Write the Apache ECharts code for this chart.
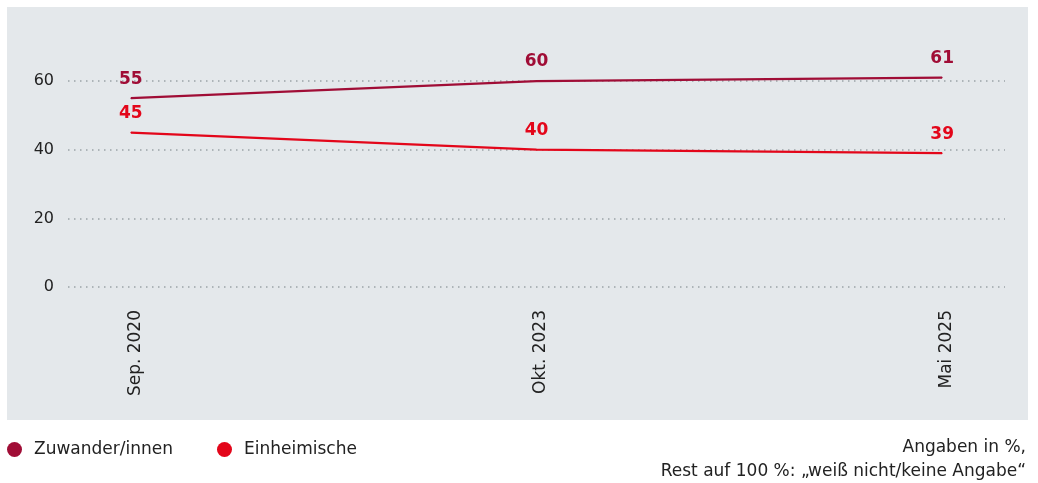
<!DOCTYPE html>
<html>
<head>
<meta charset="utf-8">
<script src="https://cdn.jsdelivr.net/npm/echarts@6/dist/echarts.min.js"></script>
<style>
  html, body { margin: 0; padding: 0; background: #fff; }
  #chart { width: 1038px; height: 483px; }
</style>
</head>
<body>
<div id="chart"></div>
<script>
// Daten
var categories = ['Sep. 2020', 'Okt. 2023', 'Mai 2025'];
var zuwanderer = [55, 60, 61];
var einheimische = [45, 40, 39];
var yTicks = [0, 20, 40, 60];

var colZuw = '#a00d36';
var colEin = '#e3061a';
var font = 'DejaVu Sans';

function pairs(vals){
    var out = [];
    for (var i = 0; i < vals.length; i++) {
        out.push([i, vals[i]]);
    }
    return out;
}

function lineSeries(name, vals, col){
    return {
        name: name,
        type: 'line',
        data: pairs(vals),
        color: col,
        symbol: 'circle',
        symbolSize: 1,
        showSymbol: true,
        itemStyle: { color: col },
        clip: false,
        lineStyle: { width: 2.2, color: col },
        label: {
            show: true, position: 'top', distance: 10,
            fontSize: 17, fontWeight: 'bold', color: col,
            formatter: function(p){ return String(p.value[1]); }
        }
    };
}

var oChart = echarts.init(document.getElementById('chart'));
var option = {
    backgroundColor: '#fff',
    textStyle: { fontFamily: font },
    animation: false,
    graphic: [
        {
            type: 'rect', z: -10, silent: true,
            shape: { x: 7, y: 7, width: 1021, height: 413 },
            style: { fill: '#e4e8eb' }
        },
        {
            type: 'text', right: 12, top: 439,
            style: { text: 'Angaben in %,', font: '17px "' + font + '"', fill: '#222', textAlign: 'right' }
        },
        {
            type: 'text', right: 12, top: 463,
            style: { text: 'Rest auf 100 %: „weiß nicht/keine Angabe“', font: '17px "' + font + '"', fill: '#222', textAlign: 'right' }
        }
    ],
    legend: {
        left: 2, top: 436,
        icon: 'circle',
        itemWidth: 15, itemHeight: 15,
        itemGap: 44,
        textStyle: { fontSize: 17, color: '#222', fontFamily: font, padding: [0, 0, 0, 7] },
        data: ['Zuwander/innen', 'Einheimische']
    },
    grid: { left: 68, right: 33, top: 12.4, bottom: 196 },
    xAxis: {
        type: 'value',
        min: -0.155, max: 2.155,
        axisLine: { show: false },
        axisTick: { show: false },
        splitLine: { show: false },
        axisLabel: {
            // leicht nach rechts versetzt wie im Original
            customValues: [0.011, 1.011, 2.011],
            rotate: 90,
            margin: 23,
            fontSize: 17,
            color: '#222',
            formatter: function(v){
                return categories[Math.round(v)] || '';
            }
        }
    },
    yAxis: {
        type: 'value',
        min: 0, max: 80, interval: 20,
        axisLine: { show: false },
        axisTick: { show: false },
        axisLabel: {
            margin: 14, fontSize: 16, color: '#222',
            formatter: function(v){ return yTicks.indexOf(v) !== -1 ? String(v) : ''; }
        },
        splitLine: {
            lineStyle: {
                type: [1.5, 4.5],
                width: 1.5,
                color: ['#9ba2a8', '#9ba2a8', '#9ba2a8', '#9ba2a8', 'rgba(0,0,0,0)']
            }
        }
    },
    series: [
        lineSeries('Zuwander/innen', zuwanderer, colZuw),
        lineSeries('Einheimische', einheimische, colEin)
    ]
};
oChart.setOption(option);
</script>
</body>
</html>
